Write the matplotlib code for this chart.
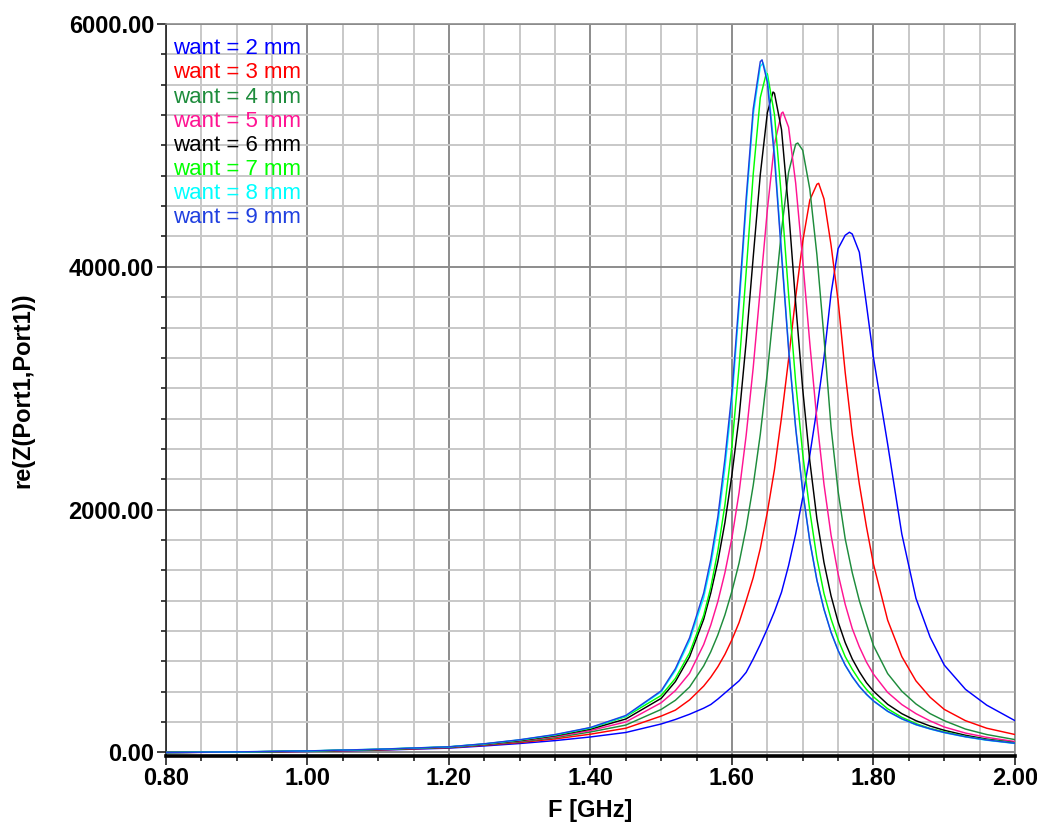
import matplotlib
matplotlib.use('Agg')
import matplotlib.pyplot as plt
from matplotlib.ticker import MultipleLocator, FormatStrFormatter

plt.rcParams['font.family'] = ['Liberation Sans', 'DejaVu Sans']

# frequency grid [GHz]
freq = [0.80, 0.90, 1.00, 1.10, 1.20, 1.25, 1.30, 1.35, 1.40, 1.45,
        1.50, 1.52, 1.54, 1.56, 1.57, 1.58, 1.59,
        1.60, 1.61, 1.62, 1.63, 1.64, 1.65, 1.66, 1.67, 1.68, 1.69, 1.70,
        1.71, 1.72, 1.73, 1.74, 1.75, 1.76, 1.77, 1.78, 1.79, 1.80,
        1.82, 1.84, 1.86, 1.88, 1.90, 1.93, 1.96, 2.00]

# re(Z) for each width, on the freq grid
want_2 = [0, 3, 9, 19, 36, 54, 74, 98, 128, 165,
          235, 272, 315, 365, 395, 440, 490,
          540, 590, 660, 770, 890, 1020, 1160, 1320, 1540, 1800, 2100,
          2450, 2830, 3250, 3780, 4150, 4260, 4270, 4120, 3690, 3250,
          2540, 1800, 1270, 950, 720, 520, 390, 262]
want_3 = [0, 3, 10, 21, 40, 60, 82, 112, 151, 200,
          300, 349, 433, 547, 620, 706, 808,
          930, 1070, 1250, 1440, 1680, 1980, 2330, 2760, 3240, 3750, 4210,
          4550, 4680, 4560, 4180, 3720, 3130, 2620, 2210, 1860, 1550,
          1090, 790, 590, 455, 355, 262, 200, 148]
want_4 = [0, 4, 11, 23, 42, 63, 88, 122, 169, 226,
          355, 430, 539, 713, 829, 968, 1133,
          1330, 1560, 1850, 2200, 2620, 3130, 3710, 4300, 4780, 5010, 4960,
          4640, 4100, 3420, 2680, 2150, 1760, 1480, 1250, 1060, 880,
          650, 505, 400, 320, 262, 193, 148, 106]
want_5 = [0, 4, 11, 24, 44, 66, 94, 131, 181, 252,
          410, 510, 652, 889, 1049, 1243, 1480,
          1770, 2140, 2610, 3170, 3820, 4470, 5010, 5265, 5150, 4690, 4050,
          3370, 2740, 2210, 1790, 1470, 1220, 1020, 870, 745, 645,
          495, 395, 320, 260, 210, 160, 125, 90]
want_6 = [0, 4, 12, 25, 45, 68, 98, 138, 192, 276,
          446, 584, 788, 1097, 1313, 1572, 1893,
          2290, 2760, 3380, 4080, 4760, 5270, 5430, 5130, 4470, 3700, 2990,
          2400, 1925, 1565, 1290, 1075, 905, 770, 665, 575, 505,
          397, 320, 262, 218, 183, 142, 110, 80]
want_7 = [0, 4, 12, 26, 46, 70, 102, 143, 200, 296,
          470, 610, 820, 1130, 1360, 1660, 2040,
          2528, 3177, 3954, 4763, 5394, 5589, 5256, 4565, 3774, 3051, 2457,
          1989, 1600, 1310, 1100, 930, 790, 685, 595, 520, 458,
          360, 290, 238, 198, 170, 133, 105, 78]
want_8 = [0, 5, 13, 27, 47, 71, 104, 146, 204, 300,
          500, 675, 920, 1275, 1540, 1880, 2340,
          2900, 3660, 4500, 5250, 5650, 5560, 4950, 4130, 3340, 2680, 2150,
          1740, 1420, 1180, 990, 840, 718, 623, 543, 478, 423,
          338, 276, 228, 193, 163, 128, 101, 74]
want_9 = [0, 5, 13, 27, 47, 72, 105, 148, 206, 305,
          508, 690, 944, 1313, 1588, 1940, 2416,
          2970, 3725, 4560, 5300, 5690, 5520, 4900, 4100, 3320, 2670, 2150,
          1740, 1420, 1180, 990, 840, 720, 625, 545, 480, 425,
          340, 278, 230, 195, 165, 130, 103, 76]

# resonance peak of each curve (falls between grid points)
peak_f = [1.766, 1.7225, 1.693, 1.672, 1.658, 1.6485, 1.644, 1.6425]
peak_v = [4285, 4688, 5020, 5275, 5440, 5594, 5680, 5705]

labels = ['want = 2 mm', 'want = 3 mm', 'want = 4 mm', 'want = 5 mm',
          'want = 6 mm', 'want = 7 mm', 'want = 8 mm', 'want = 9 mm']
colors = ['#0000FF', '#FF0000', '#1E8C3C', '#FF1493',
          '#000000', '#00FF00', '#00FFFF', '#2040E0']
series = [want_2, want_3, want_4, want_5, want_6, want_7, want_8, want_9]

fig = plt.figure(figsize=(10.37, 8.25), dpi=100)
ax = fig.add_axes([0.160, 0.0842, 0.8188, 0.8867])

for i in range(len(series)):
    pts = sorted(list(zip(freq, series[i])) + [(peak_f[i], peak_v[i])])
    ax.plot([p[0] for p in pts], [p[1] for p in pts], color=colors[i], lw=1.05, zorder=3)

ax.set_xlim(0.8, 2.0)
ax.set_ylim(-25, 6000)
ax.xaxis.set_major_locator(MultipleLocator(0.2))
ax.xaxis.set_minor_locator(MultipleLocator(0.05))
ax.yaxis.set_major_locator(MultipleLocator(2000))
ax.yaxis.set_minor_locator(MultipleLocator(250))
ax.xaxis.set_major_formatter(FormatStrFormatter('%.2f'))
ax.yaxis.set_major_formatter(FormatStrFormatter('%.2f'))

ax.grid(which='minor', color='#c8c8c8', lw=1.4, zorder=0)
ax.grid(which='major', color='#8c8c8c', lw=1.4, zorder=1)
ax.set_axisbelow(True)

for s in ['top', 'right']:
    ax.spines[s].set_color('#8c8c8c')
    ax.spines[s].set_linewidth(1.2)
ax.spines['left'].set_color('#202020')
ax.spines['left'].set_linewidth(1.2)
ax.spines['bottom'].set_color('black')
ax.spines['bottom'].set_linewidth(2.6)

ax.tick_params(which='major', length=6.5, width=1.2, color='#202020',
               labelsize=17, pad=2)
ax.tick_params(which='minor', length=3.5, width=1.2, color='#202020')
for lab in ax.get_xticklabels() + ax.get_yticklabels():
    lab.set_fontweight('bold')

ax.set_xlabel('F [GHz]', fontsize=17, fontweight='bold', labelpad=6)
ax.set_ylabel('re(Z(Port1,Port1))', fontsize=17, fontweight='bold', labelpad=25)

for i in range(len(labels)):
    ax.text(0.008, 0.966 - i * 0.0329, labels[i], color=colors[i],
            fontsize=16, ha='left', va='center', transform=ax.transAxes, zorder=4)

fig.savefig('out.png', dpi=100)
